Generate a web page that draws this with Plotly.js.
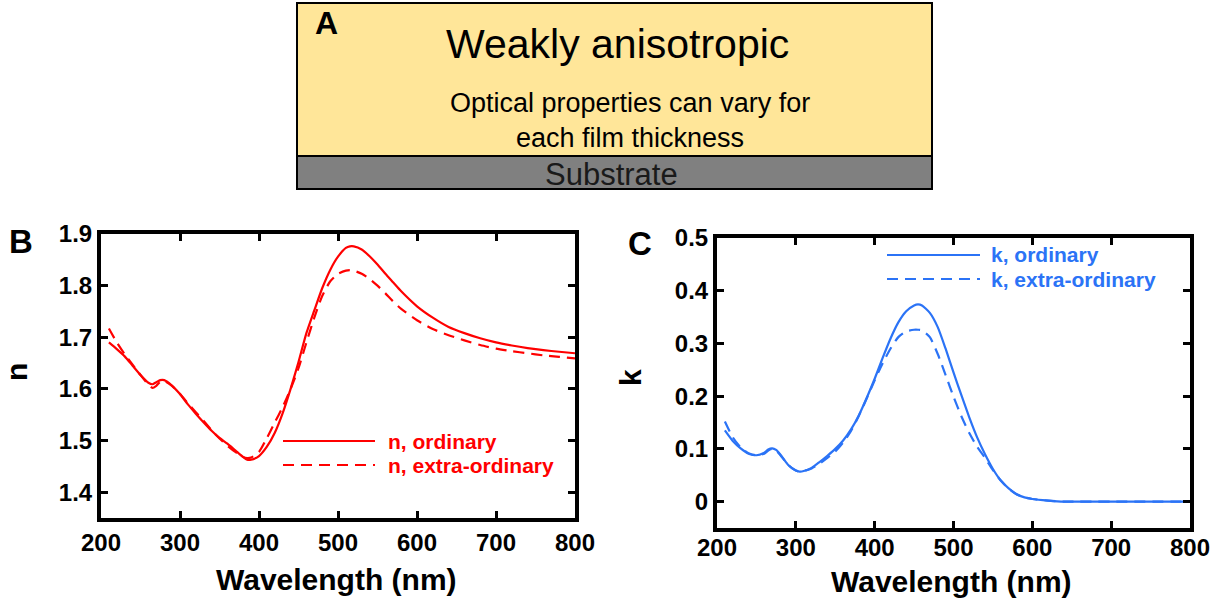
<!DOCTYPE html>
<html>
<head>
<meta charset="utf-8">
<script src="https://cdn.plot.ly/plotly-3.0.1.min.js"></script>
<style>html,body{margin:0;padding:0;background:#fff;}#chart{width:1225px;height:603px;}</style>
</head>
<body>
<div id="chart"></div>
<script>
// ---- Panel B data: refractive index n ----
const wlN = [210,220,230,240,250,260,265,270,275,280,290,300,310,320,330,340,350,360,370,380,385,390,400,410,420,430,440,450,460,470,480,490,500,510,515,520,530,540,550,560,570,580,600,620,640,660,680,700,720,740,760,780,800];
const nOrdinary = [1.690,1.677,1.663,1.645,1.627,1.612,1.609,1.613,1.617,1.617,1.606,1.590,1.570,1.552,1.535,1.519,1.505,1.494,1.481,1.468,1.463,1.463,1.470,1.488,1.515,1.553,1.600,1.652,1.708,1.752,1.795,1.830,1.856,1.873,1.876,1.876,1.870,1.857,1.841,1.823,1.806,1.789,1.760,1.738,1.720,1.708,1.698,1.690,1.684,1.679,1.675,1.672,1.669];
const nExtra = [1.717,1.690,1.667,1.647,1.627,1.608,1.602,1.606,1.614,1.615,1.606,1.590,1.572,1.555,1.538,1.520,1.504,1.490,1.478,1.468,1.466,1.467,1.478,1.505,1.535,1.565,1.600,1.640,1.690,1.738,1.780,1.808,1.823,1.829,1.830,1.829,1.823,1.813,1.800,1.785,1.769,1.755,1.733,1.716,1.704,1.694,1.685,1.678,1.673,1.669,1.665,1.662,1.659];

// ---- Panel C data: extinction coefficient k ----
const wlK = [210,220,230,240,250,260,265,270,275,280,290,300,305,310,320,330,340,350,360,370,380,390,400,410,420,430,440,450,455,460,470,480,490,500,510,520,530,540,550,560,570,580,590,600,620,640,660,680,700,720,740,760,780,800];
const kOrdinary = [0.135,0.115,0.101,0.091,0.088,0.093,0.099,0.101,0.098,0.090,0.070,0.059,0.057,0.058,0.064,0.075,0.087,0.100,0.116,0.137,0.164,0.197,0.233,0.272,0.309,0.340,0.361,0.372,0.374,0.372,0.358,0.331,0.290,0.245,0.202,0.160,0.122,0.090,0.062,0.040,0.025,0.014,0.008,0.005,0.002,0.000,0.000,0.000,0.000,0.000,0.000,0.000,0.000,0.000];
const kExtra = [0.152,0.122,0.103,0.092,0.088,0.091,0.097,0.100,0.097,0.089,0.070,0.059,0.057,0.058,0.063,0.072,0.083,0.095,0.112,0.134,0.163,0.196,0.230,0.262,0.290,0.312,0.323,0.326,0.326,0.325,0.312,0.280,0.240,0.199,0.162,0.130,0.104,0.083,0.060,0.040,0.025,0.014,0.008,0.005,0.002,0.000,0.000,0.000,0.000,0.000,0.000,0.000,0.000,0.000];

// ---- labels ----
const seriesNames = ["n, ordinary","n, extra-ordinary","k, ordinary","k, extra-ordinary"];
const xTickVals = [200,300,400,500,600,700,800];
const nTickVals = [1.4,1.5,1.6,1.7,1.8,1.9];
const kTickVals = [0,0.1,0.2,0.3,0.4,0.5];
const axisTitles = ["Wavelength (nm)","n","k"];
const panelLetters = ["A","B","C"];
const boxTexts = ["Weakly anisotropic","Optical properties can vary for<br>each film thickness","Substrate"];

const W = 1225, H = 603;
const px = x => x / W;
const py = y => 1 - y / H;
const RED = '#FF0000', BLUE = '#2B73F6';
const DASH = '11px,7px';
const FONT = 'Liberation Sans, Arial, sans-serif';

const traces = [
  {x: wlN, y: nOrdinary, name: seriesNames[0], xaxis:'x', yaxis:'y', mode:'lines', line:{color:RED, width:2.2, shape:'spline', smoothing:0.6}, showlegend:false},
  {x: wlN, y: nExtra, name: seriesNames[1], xaxis:'x', yaxis:'y', mode:'lines', line:{color:RED, width:2.2, dash:DASH, shape:'spline', smoothing:0.6}, showlegend:false},
  {x: wlK, y: kOrdinary, name: seriesNames[2], xaxis:'x2', yaxis:'y2', mode:'lines', line:{color:BLUE, width:2.2, shape:'spline', smoothing:0.6}, showlegend:false},
  {x: wlK, y: kExtra, name: seriesNames[3], xaxis:'x2', yaxis:'y2', mode:'lines', line:{color:BLUE, width:2.2, dash:DASH, shape:'spline', smoothing:0.6}, showlegend:false}
];

const tickFont = {family: FONT, size: 24, color: '#000', weight: 'bold'};
const titleFont = {family: FONT, size: 30, color: '#000', weight: 'bold'};
function xAx(domain, anchor, standoff) {
  return {domain: domain, anchor: anchor, range:[200,800], tickvals: xTickVals, ticks:'inside', ticklen:7, tickwidth:3, tickcolor:'#000',
    showline:true, linewidth:4, linecolor:'#000', mirror:'ticks', showgrid:false, zeroline:false, tickfont: tickFont, ticklabelstandoff: standoff};
}
function yAx(domain, anchor, range, tv) {
  return {domain: domain, anchor: anchor, range: range, tickvals: tv, ticks:'inside', ticklen:7, tickwidth:3, tickcolor:'#000',
    showline:true, linewidth:4, linecolor:'#000', mirror:'ticks', showgrid:false, zeroline:false, tickfont: tickFont};
}

const shapes = [
  {type:'rect', xref:'paper', yref:'paper', x0:px(297), x1:px(932), y0:py(156), y1:py(3), fillcolor:'#FFE699', line:{color:'#000', width:2}, layer:'below'},
  {type:'rect', xref:'paper', yref:'paper', x0:px(297), x1:px(932), y0:py(189), y1:py(156), fillcolor:'#808080', line:{color:'#000', width:2}, layer:'below'},
  // legend samples B
  {type:'line', xref:'paper', yref:'paper', x0:px(283), x1:px(375), y0:py(441), y1:py(441), line:{color:RED, width:2.2}},
  {type:'line', xref:'paper', yref:'paper', x0:px(283), x1:px(375), y0:py(465), y1:py(465), line:{color:RED, width:2.2, dash:DASH}},
  // legend samples C
  {type:'line', xref:'paper', yref:'paper', x0:px(887), x1:px(980), y0:py(255), y1:py(255), line:{color:BLUE, width:2.2}},
  {type:'line', xref:'paper', yref:'paper', x0:px(887), x1:px(980), y0:py(279), y1:py(279), line:{color:BLUE, width:2.2, dash:DASH}}
];

const legFontB = {family: FONT, size: 21, color: RED, weight:'bold'};
const legFontC = {family: FONT, size: 21, color: BLUE, weight:'bold'};
const ann = (x, y, text, font, xanchor, angle) => ({xref:'paper', yref:'paper', x:px(x), y:py(y), text:text, showarrow:false, font:font, xanchor:xanchor||'center', yanchor:'middle', textangle: angle||0});

const annotations = [
  ann(326, 23, panelLetters[0], {family: FONT, size: 32, color:'#000', weight:'bold'}),
  ann(617, 44, boxTexts[0], {family: FONT, size: 41, color:'#000'}),
  ann(630, 121, boxTexts[1], {family: FONT, size: 27, color:'#000'}),
  ann(611, 174, boxTexts[2], {family: FONT, size: 31, color:'#1a1a1a'}),
  ann(21, 241, panelLetters[1], {family: FONT, size: 33, color:'#000', weight:'bold'}),
  ann(640, 243, panelLetters[2], {family: FONT, size: 33, color:'#000', weight:'bold'}),
  ann(336, 579, axisTitles[0], titleFont),
  ann(951, 581, axisTitles[0], titleFont),
  ann(16, 372, axisTitles[1], titleFont, 'center', -90),
  ann(630, 377, axisTitles[2], titleFont, 'center', -90),
  ann(386, 441, seriesNames[0], legFontB, 'left'),
  ann(386, 465, seriesNames[1], legFontB, 'left'),
  ann(989, 255, seriesNames[2], legFontC, 'left'),
  ann(989, 279, seriesNames[3], legFontC, 'left')
];

const layout = {
  width: W, height: H,
  margin: {l:0, r:0, t:0, b:0},
  paper_bgcolor:'#fff', plot_bgcolor:'#fff',
  font: {family: FONT},
  xaxis: xAx([px(101), px(575)], 'y', 0),
  yaxis: yAx([py(518), py(234)], 'x', [1.35, 1.9], nTickVals),
  xaxis2: xAx([px(717), px(1190)], 'y2', -5),
  yaxis2: yAx([py(528), py(238)], 'x2', [-0.05, 0.5], kTickVals),
  shapes: shapes,
  annotations: annotations,
  showlegend: false
};

Plotly.newPlot('chart', traces, layout, {displayModeBar:false, staticPlot:true});
</script>
</body>
</html>
